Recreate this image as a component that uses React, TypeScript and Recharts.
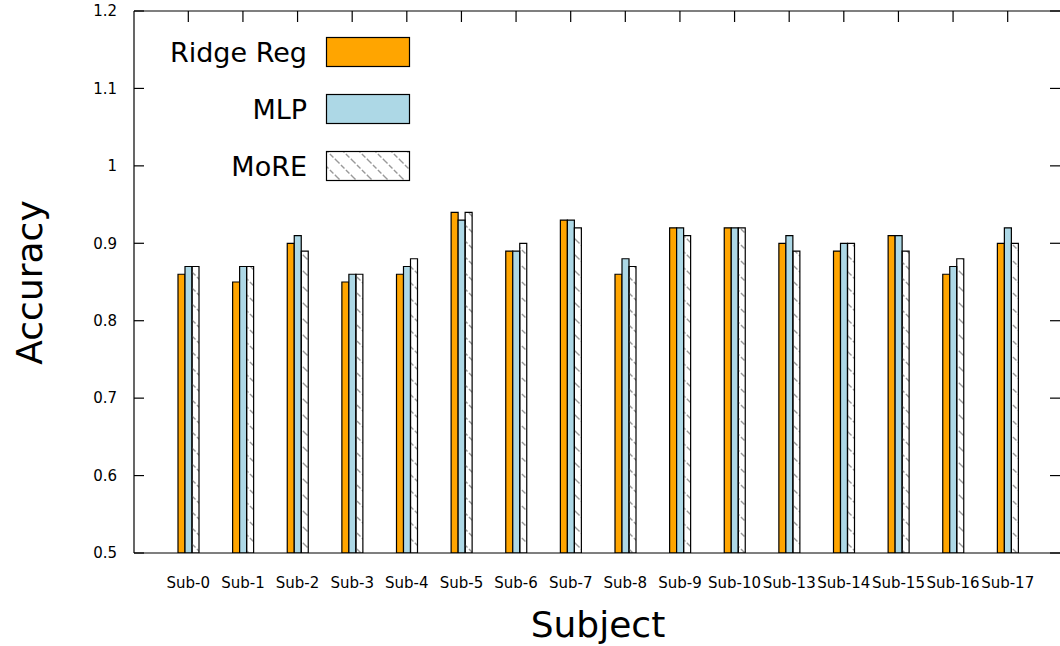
import React from 'react';
import { BarChart, Bar, XAxis, YAxis, Legend } from 'recharts';

const subjects = ['Sub-0', 'Sub-1', 'Sub-2', 'Sub-3', 'Sub-4', 'Sub-5', 'Sub-6', 'Sub-7', 'Sub-8', 'Sub-9', 'Sub-10', 'Sub-13', 'Sub-14', 'Sub-15', 'Sub-16', 'Sub-17'];
const ridgeReg = [0.86, 0.85, 0.90, 0.85, 0.86, 0.94, 0.89, 0.93, 0.86, 0.92, 0.92, 0.90, 0.89, 0.91, 0.86, 0.90];
const mlp = [0.87, 0.87, 0.91, 0.86, 0.87, 0.93, 0.89, 0.93, 0.88, 0.92, 0.92, 0.91, 0.90, 0.91, 0.87, 0.92];
const more = [0.87, 0.87, 0.89, 0.86, 0.88, 0.94, 0.90, 0.92, 0.87, 0.91, 0.92, 0.89, 0.90, 0.89, 0.88, 0.90];
const yTicks = [0.5, 0.6, 0.7, 0.8, 0.9, 1.0, 1.1, 1.2];
const seriesNames = ['Ridge Reg', 'MLP', 'MoRE'];

const data = subjects.map((s, i) => ({ subject: s, ridge: ridgeReg[i], mlp: mlp[i], more: more[i] }));

const FONT = 'DejaVu Sans, sans-serif';
const W = 1063;
const H = 646;
const PLOT_LEFT = 134;
const PLOT_TOP = 11;
const PLOT_BOTTOM = 553;
const PLOT_RIGHT = W - 1;
const TICK = 10;

const fmt = (v: number) => String(Math.round(v * 10) / 10);

const LeftTick = (props: any) => {
  const { y, payload } = props;
  return (
    <g>
      <line x1={PLOT_LEFT} x2={PLOT_LEFT + TICK} y1={y} y2={y} stroke="#000" strokeWidth={1.2} />
      <text x={PLOT_LEFT - 17} y={y} dy="0.35em" textAnchor="end" fontSize={15} fontFamily={FONT} fill="#000">
        {fmt(payload.value)}
      </text>
    </g>
  );
};

const RightTick = (props: any) => {
  const { y } = props;
  return <line x1={PLOT_RIGHT - TICK - 2} x2={PLOT_RIGHT} y1={y} y2={y} stroke="#000" strokeWidth={1.2} />;
};

const BottomTick = (props: any) => {
  const { x, payload } = props;
  return (
    <text x={x} y={PLOT_BOTTOM + 35} textAnchor="middle" fontSize={15} fontFamily={FONT} fill="#000">
      {payload.value}
    </text>
  );
};

const TopTick = (props: any) => {
  const { x } = props;
  return <line x1={x} x2={x} y1={PLOT_TOP} y2={PLOT_TOP + TICK + 1} stroke="#000" strokeWidth={1.2} />;
};

const LegendContent = (props: any) => {
  const payload = ([...(props.payload || [])] as any[]).sort(
    (a, b) => seriesNames.indexOf(a.value) - seriesNames.indexOf(b.value)
  );
  return (
    <svg width={460} height={200} style={{ position: 'absolute', left: 0, top: 0, overflow: 'visible' }}>
      <defs>
        <pattern id="hatchLegend" patternUnits="userSpaceOnUse" width={16} height={16}>
          <line x1={0} y1={0} x2={16} y2={16} stroke="#999" strokeWidth={1.4} strokeDasharray="5 2" />
          <line x1={-16} y1={0} x2={16} y2={32} stroke="#999" strokeWidth={1.4} strokeDasharray="5 2" />
          <line x1={0} y1={-16} x2={32} y2={16} stroke="#999" strokeWidth={1.4} strokeDasharray="5 2" />
        </pattern>
      </defs>
      {payload.map((p: any, i: number) => {
        const top = 37 + i * 57;
        const fill = p.value === 'MoRE' ? 'url(#hatchLegend)' : p.color;
        return (
          <g key={p.value}>
            <text x={307} y={top + 25} textAnchor="end" fontSize={27} fontFamily={FONT} fill="#000">
              {p.value}
            </text>
            <rect x={326.5} y={top + 0.5} width={83} height={29} fill={fill} stroke="#000" strokeWidth={1.2} />
          </g>
        );
      })}
    </svg>
  );
};

const YTitle = () => (
  <text x={42} y={282.5} transform="rotate(-90, 42, 282.5)" textAnchor="middle" fontSize={36} fontFamily={FONT} fill="#000">
    Accuracy
  </text>
);

const XTitle = () => (
  <text x={598} y={637} textAnchor="middle" fontSize={36} fontFamily={FONT} fill="#000">
    Subject
  </text>
);

export default function App() {
  return (
    <div style={{ position: 'absolute', left: 0, top: 0, width: 1060, height: 646, overflow: 'hidden', background: '#fff' }}>
      <BarChart
        width={W}
        height={H}
        data={data}
        margin={{ top: PLOT_TOP - 1, right: 0, bottom: 0, left: 0 }}
        barGap={0}
        barCategoryGap={0}
      >
        <defs>
          <pattern id="hatchBar" patternUnits="userSpaceOnUse" width={16} height={16}>
            <line x1={0} y1={0} x2={16} y2={16} stroke="#999" strokeWidth={1.4} strokeDasharray="5 2" />
            <line x1={-16} y1={0} x2={16} y2={32} stroke="#999" strokeWidth={1.4} strokeDasharray="5 2" />
            <line x1={0} y1={-16} x2={32} y2={16} stroke="#999" strokeWidth={1.4} strokeDasharray="5 2" />
          </pattern>
        </defs>
        <XAxis
          xAxisId="bottom"
          dataKey="subject"
          orientation="bottom"
          height={H - PLOT_BOTTOM}
          padding={{ left: 27, right: 27 }}
          interval={0}
          tickLine={false}
          tickSize={0}
          tickMargin={0}
          axisLine={{ stroke: '#000', strokeWidth: 1.2 }}
          tick={<BottomTick />}
          label={{ content: () => <XTitle /> }}
        />
        <XAxis
          xAxisId="top"
          dataKey="subject"
          orientation="top"
          height={1}
          padding={{ left: 27, right: 27 }}
          interval={0}
          tickLine={false}
          tickSize={0}
          tickMargin={0}
          axisLine={{ stroke: '#000', strokeWidth: 1.2 }}
          tick={<TopTick />}
        />
        <YAxis
          yAxisId="left"
          orientation="left"
          width={PLOT_LEFT}
          domain={[0.5, 1.2]}
          ticks={yTicks}
          allowDataOverflow
          tickLine={false}
          tickSize={0}
          tickMargin={0}
          axisLine={{ stroke: '#000', strokeWidth: 1.2 }}
          tick={<LeftTick />}
          label={{ content: () => <YTitle /> }}
        />
        <YAxis
          yAxisId="right"
          orientation="right"
          width={1}
          domain={[0.5, 1.2]}
          ticks={yTicks}
          allowDataOverflow
          tickLine={false}
          tickSize={0}
          tickMargin={0}
          axisLine={false}
          tick={<RightTick />}
        />
        <Legend
          content={<LegendContent />}
          wrapperStyle={{ position: 'absolute', left: 0, top: 0, width: 0, height: 0, overflow: 'visible' }}
        />
        <Bar xAxisId="bottom" yAxisId="left" dataKey="ridge" name={seriesNames[0]} fill="#FFA500" stroke="#000" strokeWidth={1.2} barSize={7} isAnimationActive={false} />
        <Bar xAxisId="bottom" yAxisId="left" dataKey="mlp" name={seriesNames[1]} fill="#ADD8E6" stroke="#000" strokeWidth={1.2} barSize={7} isAnimationActive={false} />
        <Bar xAxisId="bottom" yAxisId="left" dataKey="more" name={seriesNames[2]} fill="url(#hatchBar)" stroke="#000" strokeWidth={1.2} barSize={7} isAnimationActive={false} />
      </BarChart>
    </div>
  );
}
